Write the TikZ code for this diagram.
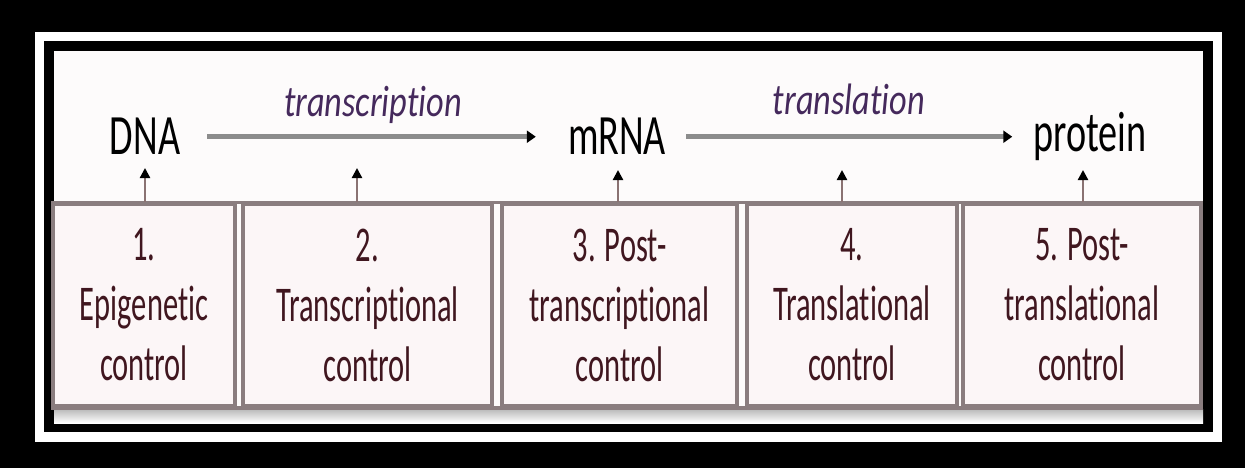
\documentclass[tikz,border=0pt]{standalone}
\usepackage{fontspec}
\setmainfont{Carlito}
\newfontfamily\bigf[FakeStretch=0.67,Ligatures=NoCommon]{Carlito}
\newfontfamily\labf[FakeStretch=0.78,Ligatures=NoCommon]{Carlito}
\newfontfamily\boxf[FakeStretch=0.61,Ligatures=NoCommon]{Carlito}
\usetikzlibrary{arrows.meta}
\definecolor{boxline}{HTML}{8A7D7F}
\definecolor{boxfill}{HTML}{FCF6F7}
\definecolor{bgfill}{HTML}{FDFBFB}
\definecolor{boxtext}{HTML}{40161F}
\definecolor{labtext}{HTML}{45295C}
\definecolor{harrowc}{HTML}{8C8C8C}
\definecolor{varrowc}{HTML}{8A7272}
\tikzset{
  molecule/.style={inner sep=0pt, anchor=base, text=black, font=\bigf\fontsize{57}{60}\selectfont},
  proc/.style={inner sep=0pt, anchor=base, text=labtext, font=\labf\itshape\fontsize{44}{48}\selectfont},
  ctrl/.style={draw=boxline, line width=3.5pt, fill=boxfill, align=center, text=boxtext,
    minimum height=202pt, inner sep=0pt, font=\boxf\fontsize{50}{60}\selectfont},
  harrow/.style={draw=harrowc, line width=4.5pt, -{Triangle[length=9pt,width=12pt,color=black]}},
  varrow/.style={draw=varrowc, line width=2.2pt, -{Triangle[length=10pt,width=10pt,color=black]}},
  boxrule/.style={draw=boxline, line width=3.5pt}
}
\begin{document}
\begin{tikzpicture}[x=1pt,y=-1pt]
\useasboundingbox (0,0) rectangle (1245,468);
% frames
\fill[black] (0,0) rectangle (1245,468);
\fill[white] (35,32) rectangle (1222,442);
\fill[black] (44,41) rectangle (1213,432);
\fill[bgfill] (54,51) rectangle (1203,423);
\shade[top color=gray!55, bottom color=white] (54,409) rectangle (1203,423);

% molecules
\node[molecule] (DNA) at (145,155) {DNA};
\node[molecule] (mRNA) at (617,155) {mRNA};
\node[molecule] (protein) at (1090,152) {protein};

% process labels
\node[proc] (tc) at (373,117) {transcription};
\node[proc] (tl) at (849,115) {translation};

% horizontal arrows
\draw[harrow] ([xshift=27pt]DNA.east) -- ([xshift=-32pt]mRNA.west |- DNA.east);
\draw[harrow] ([xshift=20pt]mRNA.east |- DNA.east) -- ([xshift=-21pt]protein.west |- DNA.east);

% control boxes
\node[ctrl, minimum width=182pt] (b1) at (144,305) {1.\\Epigenetic\\control};
\node[ctrl, minimum width=249pt] (b2) at (367.5,305) {2.\\Transcriptional\\control};
\node[ctrl, minimum width=235pt] (b3) at (619.5,305) {3. Post-\\transcriptional\\control};
\node[ctrl, minimum width=210pt] (b4) at (852,305) {4.\\Translational\\control};
\node[ctrl, minimum width=238pt] (b5) at (1082,305) {5. Post-\\translational\\control};
\draw[boxrule] (b1.north west) -- (b5.north east);
\draw[boxrule] (b1.south west) -- (b5.south east);

% vertical arrow tips
\coordinate (a1) at (145,168);
\coordinate (a2) at (357,168);
\coordinate (a3) at (618,170);
\coordinate (a4) at (842,170);
\coordinate (a5) at (1083,170);
\draw[varrow] (b1.north -| a1) -- (a1);
\draw[varrow] (b2.north -| a2) -- (a2);
\draw[varrow] (b3.north -| a3) -- (a3);
\draw[varrow] (b4.north -| a4) -- (a4);
\draw[varrow] (b5.north -| a5) -- (a5);
\end{tikzpicture}
\end{document}
